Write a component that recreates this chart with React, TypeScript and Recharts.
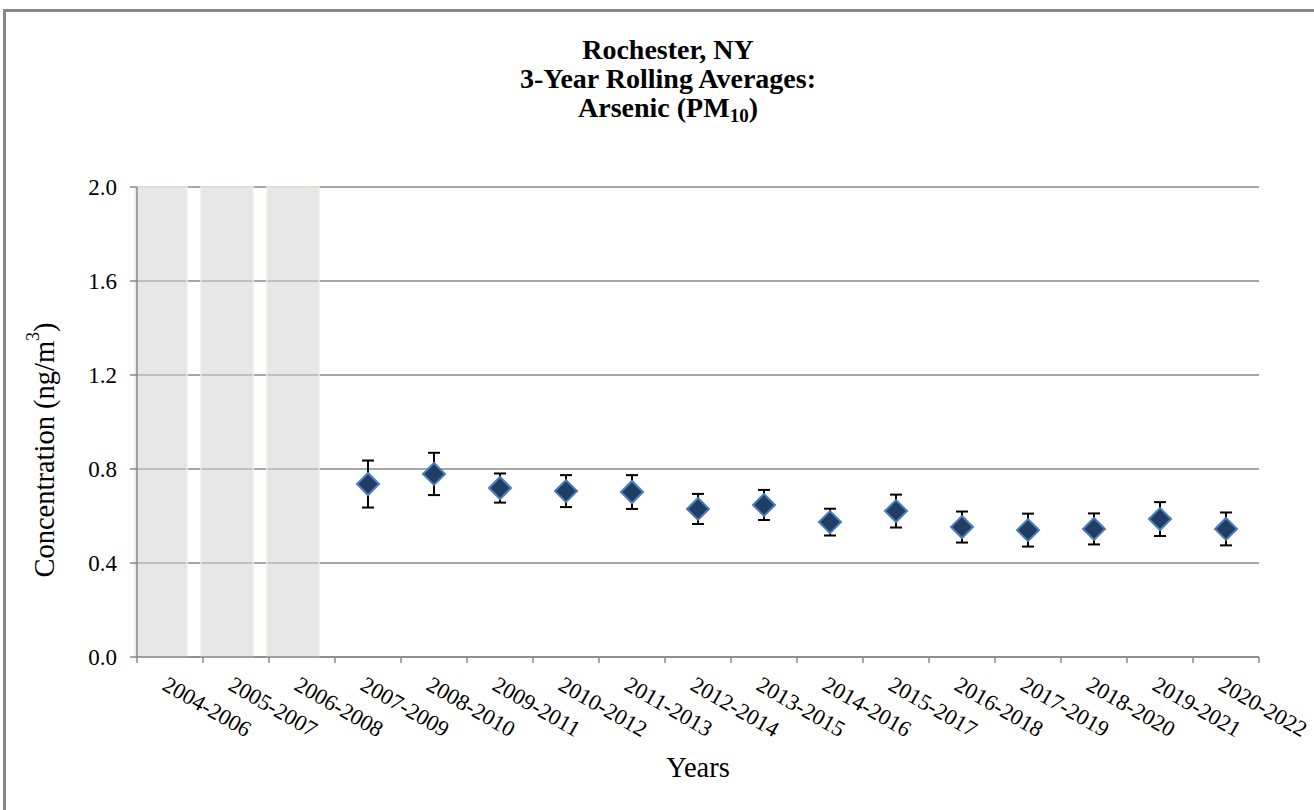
import { Bar, CartesianGrid, ComposedChart, ErrorBar, Line, Rectangle, XAxis, YAxis } from "recharts"

const years = [
    "2004-2006", "2005-2007", "2006-2008", "2007-2009", "2008-2010", "2009-2011",
    "2010-2012", "2011-2013", "2012-2014", "2013-2015", "2014-2016", "2015-2017",
    "2016-2018", "2017-2019", "2018-2020", "2019-2021", "2020-2022",
]

// shaded columns mark the periods without a 3-year average
const noDataBars = [2.0, 2.0, 2.0, null, null, null, null, null, null, null, null, null, null, null, null, null, null]

const averages = [null, null, null, 0.736, 0.779, 0.719, 0.706, 0.702, 0.63, 0.647, 0.574, 0.621, 0.553, 0.54, 0.545, 0.587, 0.545]

const errors = [null, null, null, 0.1, 0.09, 0.062, 0.068, 0.072, 0.064, 0.064, 0.057, 0.07, 0.066, 0.07, 0.066, 0.072, 0.07]

const yTicks = [0, 0.4, 0.8, 1.2, 1.6, 2.0]

const data = years.map((name, i) => ({ name, noData: noDataBars[i], avg: averages[i], err: errors[i] }))

const FONT = '"Liberation Serif", "Times New Roman", serif'
const GRID = "#8a8a8a"

const W = 1314
const H = 798
const margin = { top: 175, right: 61, bottom: 0, left: 0 }
const Y_AXIS_W = 131
const band = (W - margin.left - margin.right - Y_AXIS_W) / years.length

// category ticks sit on the band edges, labels hang at 30 degrees
function YearTick(props: any) {
    const { x, y, payload, index } = props
    const left = x - band / 2
    const right = x + band / 2
    const tx = x - 9
    const ty = y + 32
    return (
        <g>
            <line x1={left} y1={y} x2={left} y2={y + 6} stroke={GRID} strokeWidth={1.5} />
            {index === years.length - 1 && (
                <line x1={right} y1={y} x2={right} y2={y + 6} stroke={GRID} strokeWidth={1.5} />
            )}
            <text x={tx} y={ty} transform={`rotate(30, ${tx}, ${ty})`} textAnchor="start" fontSize={22.5} fontFamily={FONT} fill="#000">
                {payload.value}
            </text>
        </g>
    )
}

function Diamond(props: any) {
    const { cx, cy, value, index } = props
    if (value == null || cx == null || cy == null) return <g key={`d-${index}`} />
    const r = 11
    return (
        <polygon
            key={`d-${index}`}
            points={`${cx},${cy - r} ${cx + r},${cy} ${cx},${cy + r} ${cx - r},${cy}`}
            fill="#203d63"
            stroke="#4a7ebb"
            strokeWidth={2}
        />
    )
}

function ShiftedBar(props: any) {
    const { x, y, width, height } = props
    return <Rectangle x={x - 9} y={y} width={width} height={height} fill="#d4d4d4" fillOpacity={0.55} stroke="#efeee0" strokeWidth={1.5} />
}

function YLabel(props: any) {
    const { viewBox } = props
    const cx = viewBox.x + 38
    const cy = viewBox.y + viewBox.height / 2 + 28
    return (
        <text x={cx} y={cy} transform={`rotate(-90, ${cx}, ${cy})`} textAnchor="middle" dominantBaseline="central" fontSize={28.5} fontFamily={FONT} fill="#000">
            Concentration (ng/m<tspan dy={-11} fontSize={18}>3</tspan><tspan dy={11}>)</tspan>
        </text>
    )
}

function XLabel(props: any) {
    const { viewBox } = props
    return (
        <text x={viewBox.x + viewBox.width / 2} y={viewBox.y + 120} textAnchor="middle" fontSize={28.5} fontFamily={FONT} fill="#000">
            Years
        </text>
    )
}

export default function App() {
    return (
        <div style={{ position: "absolute", left: 3, top: 9, width: 1330, height: 820, border: "3px solid #878787", background: "#fff", fontFamily: FONT }}>
            <div style={{ position: "absolute", left: -6, top: 23, width: 1336, textAlign: "center", fontWeight: "bold", fontSize: 28, lineHeight: "29px", color: "#000", fontFamily: FONT }}>
                <div>Rochester, NY</div>
                <div>3-Year Rolling Averages:</div>
                <div>Arsenic (PM<sub style={{ fontSize: 19, lineHeight: 0, verticalAlign: "-5px" }}>10</sub>)</div>
            </div>
            <ComposedChart width={W} height={H} data={data} margin={margin} barGap={0}>
                <CartesianGrid horizontal vertical={false} stroke={GRID} strokeWidth={1.5} />
                <XAxis
                    dataKey="name"
                    interval={0}
                    height={153}
                    tickSize={0}
                    tickMargin={0}
                    tickLine={false}
                    axisLine={{ stroke: GRID, strokeWidth: 1.5 }}
                    tick={<YearTick />}
                    label={{ content: <XLabel /> }}
                />
                <YAxis
                    width={Y_AXIS_W}
                    domain={[0, 2]}
                    ticks={yTicks}
                    interval={0}
                    tickFormatter={(v: number) => v.toFixed(1)}
                    tickSize={7}
                    tickMargin={13}
                    tickLine={{ stroke: GRID, strokeWidth: 1.5 }}
                    axisLine={{ stroke: GRID, strokeWidth: 1.5 }}
                    tick={{ fontSize: 23, fill: "#000", fontFamily: FONT }}
                    label={{ content: <YLabel /> }}
                />
                <Bar dataKey="noData" barSize={52} shape={<ShiftedBar />} isAnimationActive={false} />
                <Line
                    dataKey="avg"
                    stroke="none"
                    dot={Diamond}
                    activeDot={false}
                    isAnimationActive={false}
                >
                    <ErrorBar dataKey="err" width={6} stroke="#000" strokeWidth={2} direction="y" />
                </Line>
            </ComposedChart>
        </div>
    )
}
